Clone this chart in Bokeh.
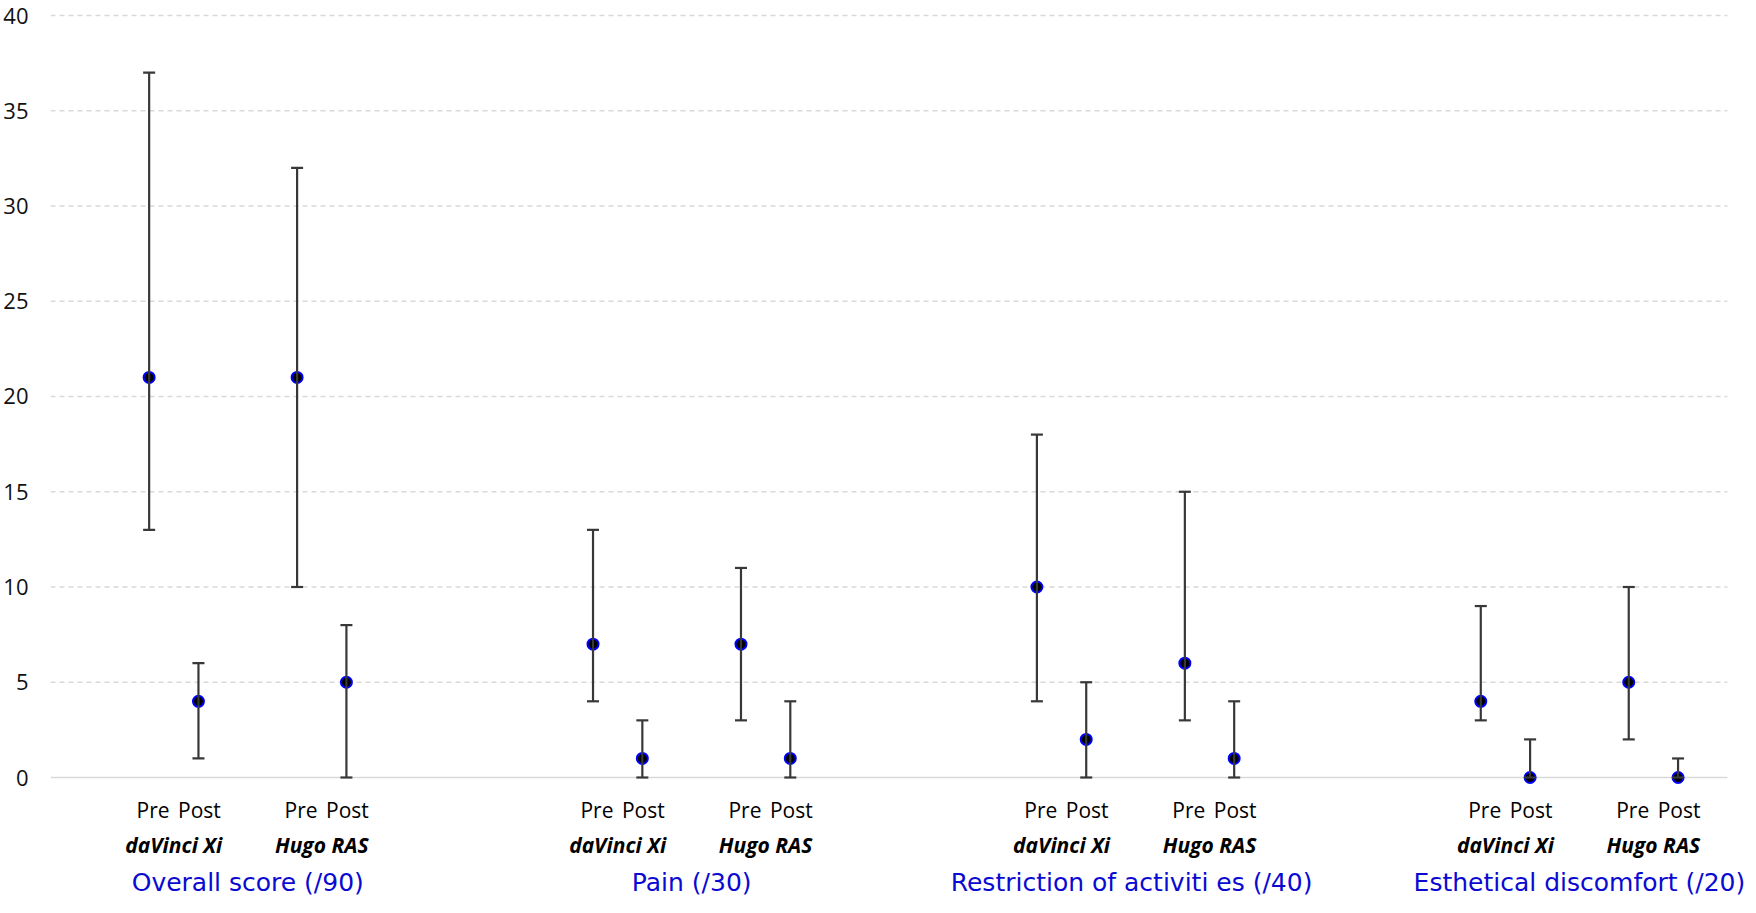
from bokeh.plotting import figure
from bokeh.models import (ColumnDataSource, Whisker, TeeHead, FixedTicker, Range1d)
from bokeh.core.properties import value
from bokeh.embed import file_html
from bokeh.resources import INLINE

# ---- data ----
groups = ["Overall score (/90)", "Pain (/30)",
          "Restriction of activiti es  (/40)", "Esthetical discomfort (/20)"]
systems = ["daVinci Xi", "Hugo RAS"]
phases = ["Pre", "Post"]

davinci_pre = [21, 7, 10, 4]
davinci_pre_low = [13, 4, 4, 3]
davinci_pre_high = [37, 13, 18, 9]
davinci_post = [4, 1, 2, 0]
davinci_post_low = [1, 0, 0, 0]
davinci_post_high = [6, 3, 5, 2]
hugo_pre = [21, 7, 6, 5]
hugo_pre_low = [10, 3, 3, 2]
hugo_pre_high = [32, 11, 15, 10]
hugo_post = [5, 1, 1, 0]
hugo_post_low = [0, 0, 0, 0]
hugo_post_high = [8, 4, 4, 1]

y_ticks = [0, 5, 10, 15, 20, 25, 30, 35, 40]

series = {
    (0, 0): (davinci_pre, davinci_pre_low, davinci_pre_high),
    (0, 1): (davinci_post, davinci_post_low, davinci_post_high),
    (1, 0): (hugo_pre, hugo_pre_low, hugo_pre_high),
    (1, 1): (hugo_post, hugo_post_low, hugo_post_high),
}

X_START, X_END = 1, 35          # extent of the value axis area
Y_PHASE, Y_SYSTEM, Y_GROUP = -1.732, -3.517, -5.50   # label rows (below 0)

xs, ys, lows, highs = [], [], [], []
ph_x, ph_t = [], []
sy_x, sy_t = [], []
gr_x, gr_t = [], []
for g in range(len(groups)):
    for s in range(len(systems)):
        for ph in range(len(phases)):
            med, lo, hi = series[(s, ph)]
            x = 3 + 9 * g + 3 * s + ph
            xs.append(x)
            ys.append(med[g])
            lows.append(lo[g])
            highs.append(hi[g])
            ph_x.append(x + (0.08 if ph == 0 else 0.02))
            ph_t.append(phases[ph])
        sy_x.append(3 + 9 * g + 3 * s + 0.5)
        sy_t.append(systems[s])
    gr_x.append(3 + 9 * g + 2)
    gr_t.append(groups[g])

src = ColumnDataSource(dict(x=xs, y=ys, lower=lows, upper=highs))

FONT = "Open Sans"
GFONT = "DejaVu Sans"

p = figure(frame_width=1698, frame_height=893,
           min_border_left=42, min_border_right=0,
           min_border_top=4, min_border_bottom=0,
           x_range=Range1d(X_START, X_START + 1698 / 49.32),
           y_range=Range1d(-6.299, 40.577),
           output_backend="svg", toolbar_location=None)
p.outline_line_color = None
p.background_fill_color = "white"
p.border_fill_color = "white"

p.xaxis.visible = False
p.xgrid.visible = False
p.ygrid.visible = False

p.yaxis.ticker = FixedTicker(ticks=y_ticks)
p.yaxis.axis_line_color = None
p.yaxis.major_tick_line_color = None
p.yaxis.minor_tick_line_color = None
p.yaxis.major_label_text_font = FONT
p.yaxis.major_label_text_font_size = "22px"
p.yaxis.major_label_text_color = "#111111"
p.yaxis.major_label_standoff = 16

# gridlines (dashed) and baseline at 0 (solid)
gt = y_ticks[1:]
p.segment(x0=[X_START] * len(gt), x1=[X_END] * len(gt), y0=gt, y1=gt,
          line_color="#d9d9d9", line_dash="5 4", line_width=1.3)
p.segment(x0=[X_START], x1=[X_END], y0=[y_ticks[0]], y1=[y_ticks[0]],
          line_color="#d9d9d9", line_width=1.6)

wcol = "#383838"
wh = Whisker(base="x", upper="upper", lower="lower", source=src,
             dimension="height", line_color=wcol, line_width=2.2,
             upper_head=TeeHead(size=12, line_color=wcol, line_width=2.2),
             lower_head=TeeHead(size=12, line_color=wcol, line_width=2.2),
             level="glyph")
p.add_layout(wh)

p.scatter("x", "y", source=src, size=11, fill_color="black",
          line_color="#0000ff", line_width=2)

# ---- category labels ----
p.text(x=ph_x, y=[Y_PHASE] * len(ph_x), text=ph_t,
       text_align="center", text_baseline="middle",
       text_font=value(FONT), text_font_size="21px", text_color="black")
p.text(x=sy_x, y=[Y_SYSTEM] * len(sy_x), text=sy_t,
       text_align="center", text_baseline="middle",
       text_font=value(FONT), text_font_size="21px",
       text_font_style="bold italic", text_color="black")
p.text(x=gr_x, y=[Y_GROUP] * len(gr_x), text=gr_t,
       text_align="center", text_baseline="middle",
       text_font=value(GFONT), text_font_size="25px", text_color="#0a0ad2")

open("out.html", "w").write(file_html(p, INLINE))
